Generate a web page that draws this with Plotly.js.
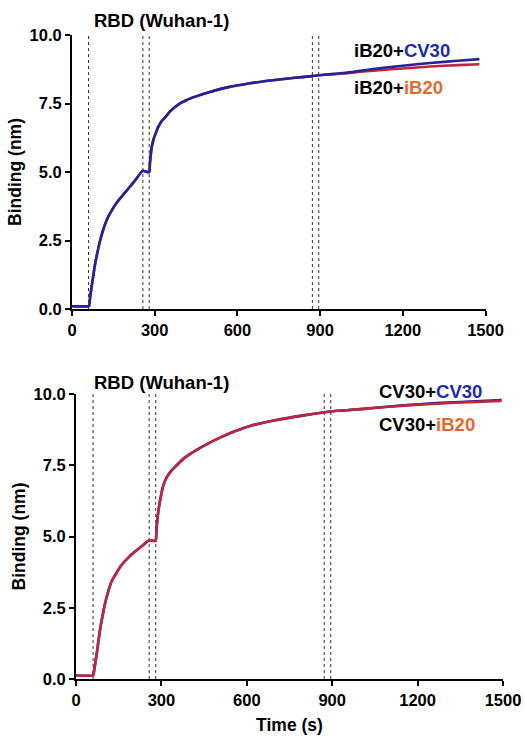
<!DOCTYPE html>
<html>
<head>
<meta charset="utf-8">
<script src="https://cdn.plot.ly/plotly-3.0.1.min.js"></script>
<style>html,body{margin:0;padding:0;background:#fff;}#chart{width:525px;height:736px;}</style>
</head>
<body>
<div id="chart"></div>
<script>
// ---- data ----
const stepTimes = [60, 257, 280, 872, 895];
const yTicks = [0, 2.5, 5, 7.5, 10];
const xTicks = [0, 300, 600, 900, 1200, 1500];

const topTime = [0,58,62,66,71,77,83,92,102,114,126,142,162,185,210,233,256,266,277,280,283,289,296,305,313,325,340,355,375,395,416,450,500,560,646,720,800,870,895,950,1000,1092,1200,1300,1400,1478];
const topCV30 = [0.1,0.1,0.12,0.45,0.81,1.2,1.6,2.05,2.5,2.92,3.25,3.56,3.88,4.16,4.46,4.75,5.04,5.02,4.99,5.0,5.35,5.9,6.2,6.45,6.65,6.85,7.02,7.2,7.38,7.52,7.63,7.76,7.92,8.08,8.24,8.34,8.43,8.5,8.53,8.58,8.63,8.76,8.88,8.98,9.06,9.12];
const topIB20 = [0.1,0.1,0.12,0.45,0.81,1.2,1.6,2.05,2.5,2.92,3.25,3.56,3.88,4.16,4.46,4.75,5.04,5.02,4.99,5.0,5.35,5.9,6.2,6.45,6.65,6.85,7.02,7.2,7.38,7.52,7.63,7.76,7.92,8.08,8.24,8.34,8.43,8.5,8.53,8.57,8.61,8.7,8.78,8.85,8.9,8.93];

const botTime = [0,58,61,66,73,84,93,102,113,125,142,160,183,207,232,256,266,277,280,283,289,298,307,320,336,354,380,424,465,506,560,611,700,800,886,950,1000,1100,1161,1250,1350,1420,1495];
const botCV30 = [0.12,0.12,0.15,0.45,0.9,1.7,2.2,2.65,3.07,3.42,3.72,4.0,4.25,4.47,4.67,4.86,4.86,4.84,4.85,5.3,5.87,6.4,6.8,7.1,7.32,7.5,7.75,8.04,8.27,8.47,8.7,8.88,9.08,9.25,9.38,9.43,9.47,9.56,9.61,9.67,9.72,9.75,9.79];
const botIB20 = [0.12,0.12,0.15,0.45,0.9,1.7,2.2,2.65,3.07,3.42,3.72,4.0,4.25,4.47,4.67,4.86,4.86,4.84,4.85,5.3,5.87,6.4,6.8,7.1,7.32,7.5,7.75,8.04,8.27,8.47,8.7,8.88,9.08,9.25,9.38,9.43,9.47,9.55,9.6,9.65,9.7,9.73,9.76];

const panelTitle = "RBD (Wuhan-1)";
const topLabels = ["iB20+", "CV30", "iB20+", "iB20"];
const botLabels = ["CV30+", "CV30", "CV30+", "iB20"];

// ---- styling ----
const BLUE = "#23239c";
const RED = "#bf2540";
const TXT_BLUE = "#1c2bb0";
const TXT_ORANGE = "#e8682c";
const FONT = "Liberation Sans, Arial, sans-serif";

const W = 525, H = 736;
const px = v => v / W;
const py = v => (H - v) / H;

const lineStyle = c => ({color: c, width: 2.6, shape: "spline", smoothing: 0.6});
const traces = [
  {x: topTime, y: topIB20, xaxis: "x", yaxis: "y", mode: "lines", line: lineStyle(RED), hoverinfo: "skip"},
  {x: topTime, y: topCV30, xaxis: "x", yaxis: "y", mode: "lines", line: lineStyle(BLUE), hoverinfo: "skip"},
  {x: botTime, y: botCV30, xaxis: "x2", yaxis: "y2", mode: "lines", line: lineStyle(BLUE), hoverinfo: "skip"},
  {x: botTime, y: botIB20, xaxis: "x2", yaxis: "y2", mode: "lines", line: lineStyle(RED), hoverinfo: "skip"}
];

const shapes = [];
[["x", "y"], ["x2", "y2"]].forEach(([xa, ya]) => {
  stepTimes.forEach(t => {
    shapes.push({type: "line", xref: xa, yref: ya, x0: t, x1: t, y0: 0, y1: 10,
      line: {color: "#333", width: 1, dash: "dot"}, layer: "below"});
  });
});

const tickFont = {family: FONT, size: 16.5, color: "#000", weight: "bold"};
const titleFont = {family: FONT, size: 17.5, color: "#000", weight: "bold"};

function xAxis(dom, anchor, title) {
  const ax = {domain: dom, anchor: anchor, range: [0, 1500], tickvals: xTicks, ticktext: xTicks.map(String),
    showline: true, linecolor: "#000", linewidth: 2, ticks: "outside", ticklen: 5, tickwidth: 2, tickcolor: "#000",
    showgrid: false, zeroline: false, tickfont: tickFont, fixedrange: true};
  if (title) ax.title = {text: title, font: titleFont, standoff: 11};
  return ax;
}
function yAxis(dom, anchor) {
  return {domain: dom, anchor: anchor, range: [0, 10], tickvals: yTicks, ticktext: yTicks.map(v => v.toFixed(1)),
    showline: true, linecolor: "#000", linewidth: 2, ticks: "outside", ticklen: 5, tickwidth: 2, tickcolor: "#000",
    showgrid: false, zeroline: false, tickfont: tickFont, fixedrange: true,
    title: {text: "Binding (nm)", font: titleFont, standoff: 3}};
}

const lblFont = {family: FONT, size: 18.5, color: "#000", weight: "bold"};
function colored(parts, c2) {
  return parts[0] + "<span style='color:" + c2 + "'>" + parts[1] + "</span>";
}

const annotations = [
  {xref: "paper", yref: "paper", x: px(92), y: py(20), xanchor: "left", yanchor: "middle", showarrow: false, text: panelTitle, font: lblFont},
  {xref: "paper", yref: "paper", x: px(92), y: py(382), xanchor: "left", yanchor: "middle", showarrow: false, text: panelTitle, font: lblFont},
  {xref: "paper", yref: "paper", x: px(352), y: py(50), xanchor: "left", yanchor: "middle", showarrow: false, text: colored(topLabels.slice(0, 2), TXT_BLUE), font: lblFont},
  {xref: "paper", yref: "paper", x: px(352), y: py(87), xanchor: "left", yanchor: "middle", showarrow: false, text: colored(topLabels.slice(2, 4), TXT_ORANGE), font: lblFont},
  {xref: "paper", yref: "paper", x: px(377), y: py(392), xanchor: "left", yanchor: "middle", showarrow: false, text: colored(botLabels.slice(0, 2), TXT_BLUE), font: lblFont},
  {xref: "paper", yref: "paper", x: px(377), y: py(424), xanchor: "left", yanchor: "middle", showarrow: false, text: colored(botLabels.slice(2, 4), TXT_ORANGE), font: lblFont}
];

const layout = {
  width: W, height: H,
  margin: {l: 0, r: 0, t: 0, b: 0},
  paper_bgcolor: "#fff", plot_bgcolor: "#fff",
  showlegend: false,
  xaxis: xAxis([px(72), px(485.5)], "y", null),
  yaxis: yAxis([py(309), py(35)], "x"),
  xaxis2: xAxis([px(76), px(503)], "y2", "Time (s)"),
  yaxis2: yAxis([py(679), py(394)], "x2"),
  shapes: shapes,
  annotations: annotations
};

Plotly.newPlot("chart", traces, layout, {staticPlot: true, displayModeBar: false});
</script>
</body>
</html>
